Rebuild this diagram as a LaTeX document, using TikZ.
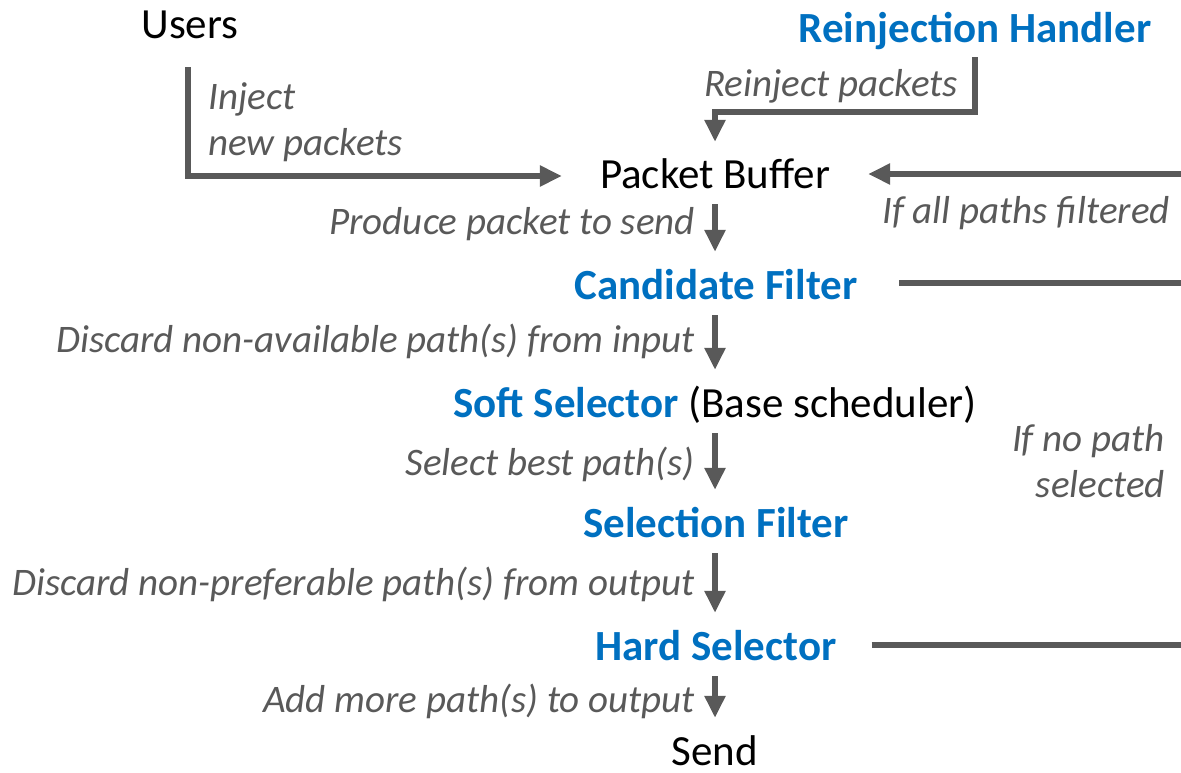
\documentclass[tikz,border=0pt]{standalone}
\usepackage{fontspec}
\setmainfont{Carlito}
\usetikzlibrary{arrows.meta,calc}
\definecolor{cgray}{HTML}{595959}
\definecolor{cblue}{HTML}{0070C0}
\begin{document}
\begin{tikzpicture}[x=1pt,y=-1pt,
  lab/.style={font=\fontsize{43}{50}\selectfont, inner sep=0pt, text height=28pt, text depth=0pt},
  blab/.style={lab, font=\fontsize{43}{50}\selectfont\bfseries, text=cblue},
  ital/.style={font=\fontsize{39}{46}\selectfont\itshape, text=cgray, inner sep=0pt, text height=25pt, text depth=0pt},
  italm/.style={font=\fontsize{39}{46}\selectfont\itshape, text=cgray, inner sep=0pt},
  line/.style={draw=cgray, line width=6.5pt},
  flow/.style={line, -{Triangle[length=22pt,width=20pt]}},
  vflow/.style={flow, shorten <=16pt, shorten >=19pt}]
\useasboundingbox (0,0) rectangle (1181,772);
% nodes
\node[lab] (users) at (190,24) {Users};
\node[blab] (rh) at (975,28) {Reinjection Handler};
\node[lab] (pb) at (715,174) {Packet Buffer};
\node[blab] (cf) at (716,285) {Candidate Filter};
\node[lab] (ss) at (715,403) {\textcolor{cblue}{\bfseries Soft Selector} (Base scheduler)};
\node[blab] (sf) at (716,523) {Selection Filter};
\node[blab] (hs) at (716,646) {Hard Selector};
\node[lab] (send) at (715,751) {Send};
% free ends at the right edge
\coordinate (r1) at (1181,174);
\coordinate (r2) at (1181,283);
\coordinate (r3) at (1181,645);
% labels
\node[italm, align=left, anchor=north west] (linj) at (208,82) {Inject\\new packets};
\node[ital, anchor=east] (lre) at (958,84) {Reinject packets};
\node[ital, anchor=east] (lall) at (1170,211) {If all paths filtered};
\node[ital, anchor=east] (lpr) at (695,222) {Produce packet to send};
\node[ital, anchor=east] (ldna) at (695,340) {Discard non-available path(s) from input};
\node[ital, anchor=east] (lsel) at (695,463) {Select best path(s)};
\node[italm, align=right, anchor=north east] (lno) at (1165,424) {If no path\\selected};
\node[ital, anchor=east] (ldnp) at (695,583) {Discard non-preferable path(s) from output};
\node[ital, anchor=east] (ladd) at (695,700) {Add more path(s) to output};
% connectors
\draw[flow] ($(users.south)+(-2,29)$) |- ($(pb.west)+(-38,2)$);
\draw[flow] ($(rh.south)+(0,15)$) -- ($(rh.south |- pb.north)+(0,-48)$) -| ($(pb.north)+(0,-18)$);
\draw[flow] (r1) -- ($(pb.east)+(38,0)$);
\draw[line] ($(cf.east)+(42,-2)$) -- (r2);
\draw[line] ($(hs.east)+(35,-1)$) -- (r3);
\draw[vflow] (pb.south) -- (pb.south |- cf.north);
\draw[vflow] (pb.south |- cf.south) -- (pb.south |- ss.north);
\draw[vflow] (pb.south |- ss.south) -- (pb.south |- sf.north);
\draw[vflow] (pb.south |- sf.south) -- (pb.south |- hs.north);
\draw[vflow] (pb.south |- hs.south) -- (send.north);
\end{tikzpicture}
\end{document}
